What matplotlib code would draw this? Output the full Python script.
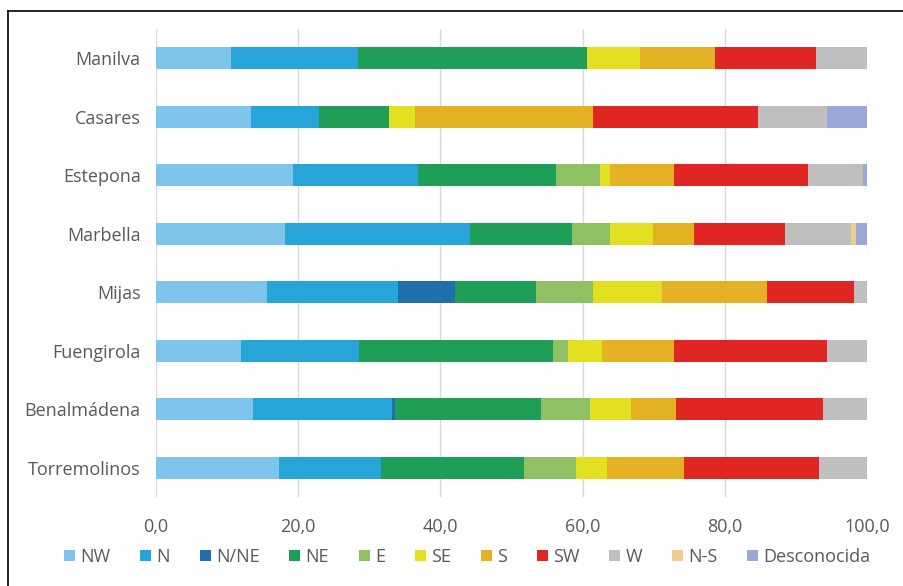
import matplotlib.pyplot as plt
import numpy as np
from matplotlib.lines import Line2D

# municipalities, top to bottom
towns = ["Manilva", "Casares", "Estepona", "Marbella", "Mijas",
         "Fuengirola", "Benalmádena", "Torremolinos"]

directions = ["NW", "N", "N/NE", "NE", "E", "SE", "S", "SW", "W", "N-S", "Desconocida"]

# percentage per direction, one value per town (same order as towns)
nw = [10.5, 13.3, 19.3, 18.1, 15.6, 12.0, 13.6, 17.3]
n = [17.9, 9.6, 17.6, 26.1, 18.5, 16.6, 19.6, 14.3]
n_ne = [0.0, 0.0, 0.0, 0.0, 8.0, 0.0, 0.4, 0.0]
ne = [32.2, 9.8, 19.3, 14.3, 11.4, 27.2, 20.5, 20.1]
e = [0.0, 0.0, 6.2, 5.3, 8.0, 2.2, 6.9, 7.3]
se = [7.4, 3.7, 1.4, 6.1, 9.6, 4.7, 5.8, 4.4]
s = [10.6, 25.1, 9.1, 5.8, 14.9, 10.2, 6.3, 10.9]
sw = [14.2, 23.1, 18.8, 12.8, 12.2, 21.5, 20.7, 19.0]
w = [7.2, 9.8, 7.7, 9.3, 1.8, 5.6, 6.2, 6.7]
n_s = [0.0, 0.0, 0.0, 0.7, 0.0, 0.0, 0.0, 0.0]
desconocida = [0.0, 5.6, 0.6, 1.5, 0.0, 0.0, 0.0, 0.0]

series = [nw, n, n_ne, ne, e, se, s, sw, w, n_s, desconocida]
colors = ["#7DC5EA", "#27A5D9", "#1F6FAE", "#1E9E56", "#8EC064", "#E3E022",
          "#E4B125", "#E02622", "#BFBFBF", "#F0CC8E", "#99A8D6"]

grey = "#595959"
fs = 13
plt.rcParams["font.family"] = ["Open Sans", "DejaVu Sans"]

fig = plt.figure(figsize=(9.04, 5.86), dpi=100)
ax = fig.add_axes([0.1726, 0.152, 0.7865, 0.7985])

y = np.arange(len(towns))
left = np.zeros(len(towns))
for name, vals, c in zip(directions, series, colors):
    vals = np.array(vals)
    ax.barh(y, vals, left=left, height=0.38, color=c, label=name, zorder=3)
    left += vals

ax.set_ylim(len(towns) - 0.5, -0.5)
ax.set_xlim(0, 100)
ax.set_yticks(y)
ax.set_yticklabels(towns, fontsize=fs, color=grey)
ax.set_xticks(np.arange(0, 101, 20))
ax.set_xticklabels([f"{v:.1f}".replace(".", ",") for v in range(0, 101, 20)],
                   fontsize=fs, color=grey)
ax.tick_params(axis="y", length=0, pad=11)
ax.tick_params(axis="x", length=0, pad=15)
ax.grid(axis="x", color="#D9D9D9", linewidth=1, zorder=0)
for sp in ax.spines.values():
    sp.set_visible(False)

leg = fig.legend(loc="center", bbox_to_anchor=(0.517, 0.05), ncol=11,
                 frameon=False, fontsize=fs, handlelength=0.6, handleheight=0.6,
                 handletextpad=0.3, columnspacing=1.65, labelcolor=grey)

# outer frame (left and top edges)
fig.add_artist(Line2D([0.009, 0.009], [0, 0.981], color="black", linewidth=1.2,
                      transform=fig.transFigure))
fig.add_artist(Line2D([0.009, 1], [0.981, 0.981], color="black", linewidth=1.2,
                      transform=fig.transFigure))

fig.savefig("out.png", dpi=100)
